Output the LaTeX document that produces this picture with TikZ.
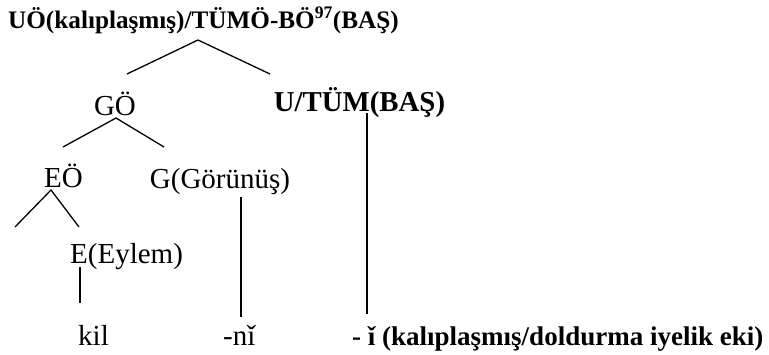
\documentclass[tikz,border=0pt]{standalone}
\usepackage{fontspec}
\setmainfont{Liberation Serif}
\usepackage{tikz}

\begin{document}
\begin{tikzpicture}[x=1pt,y=-1pt,
  lbl/.style={inner sep=0pt,anchor=base,font=\fontsize{29}{32}\selectfont},
  blbl/.style={inner sep=0pt,anchor=base,font=\fontsize{28}{32}\selectfont\bfseries},
  edge/.style={line width=1.3pt}]
  \useasboundingbox (0,0) rectangle (769,354);
  % labels
  \node[blbl,anchor=base west,font=\fontsize{25.2}{30}\selectfont\bfseries] (uo) at (8,28)
    {UÖ(kalıplaşmış)/TÜMÖ-BÖ\textsuperscript{97}(BAŞ)};
  \node[lbl] (go) at (115,115) {GÖ};
  \node[blbl,font=\fontsize{28.8}{32}\selectfont\bfseries] (utum) at (359.5,111) {U/TÜM(BAŞ)};
  \node[lbl] (eo) at (63.5,187) {EÖ};
  \node[lbl] (gor) at (220,188) {G(Görünüş)};
  \node[lbl,anchor=base west] (eylem) at (70,263) {E(Eylem)};
  \node[lbl,anchor=base west] (kil) at (78,345) {kil};
  \node[lbl,anchor=base west] (ni) at (223,345) {-nǐ};
  \node[blbl,anchor=base west,font=\fontsize{27}{30}\selectfont\bfseries] (iye) at (352,345)
    {- ǐ (kalıplaşmış/doldurma iyelik eki)};
  % branch points
  \coordinate (uo-j) at (198,40);
  \coordinate (uo-l) at (127,74);
  \coordinate (uo-r) at (270,74);
  \coordinate (go-j) at (116,118);
  \coordinate (go-l) at (63,147);
  \coordinate (go-r) at (164,147);
  \coordinate (eo-j) at (51,190);
  \coordinate (eo-l) at (15,227);
  \coordinate (eo-r) at (79,227);
  \coordinate (eylem-t) at (80,267);
  \coordinate (eylem-b) at (80,303);
  \coordinate (gor-t) at (241,197);
  \coordinate (gor-b) at (241,317);
  \coordinate (utum-t) at (367,113);
  \coordinate (utum-b) at (367,314);
  % tree
  \draw[edge] (uo-l) -- (uo-j) -- (uo-r);
  \draw[edge] (go-l) -- (go-j) -- (go-r);
  \draw[edge] (eo-l) -- (eo-j) -- (eo-r);
  \draw[edge] (eylem-t) -- (eylem-b);
  \draw[edge] (gor-t) -- (gor-b);
  \draw[edge] (utum-t) -- (utum-b);
\end{tikzpicture}
\end{document}
